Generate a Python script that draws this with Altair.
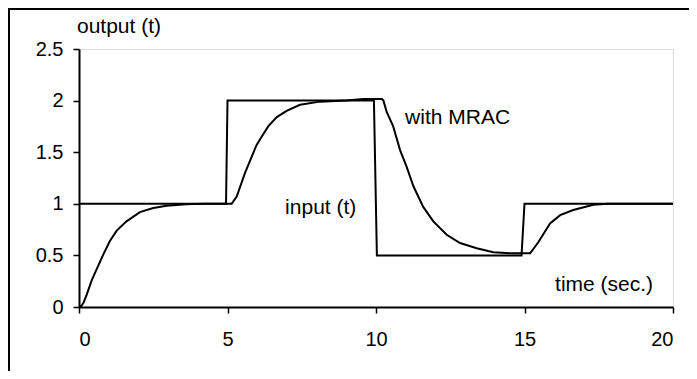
import altair as alt
import pandas as pd

# input (t): step reference signal
input_t = [0, 4.95, 5.0, 9.93, 10.03, 14.9, 15.0, 20]
input_v = [1, 1, 2, 2, 0.5, 0.5, 1, 1]

# output (t) with MRAC
out_t = [0, 0.08, 0.15, 0.26, 0.43, 0.6, 0.82, 1.04, 1.27, 1.6, 2.05, 2.5, 2.95, 3.6, 4.2, 5.08,
         5.14, 5.31, 5.59, 5.98, 6.15, 6.37, 6.66, 6.99, 7.44, 8.11, 9.0, 9.57, 10.2,
         10.25, 10.36, 10.58, 10.81, 11.03, 11.26, 11.59, 11.93, 12.38, 12.83, 13.39, 13.95, 14.51, 14.85, 15.19,
         15.47, 15.86, 16.2, 16.64, 17.32, 17.8, 20]
out_v = [0, 0.01, 0.04, 0.12, 0.26, 0.37, 0.51, 0.64, 0.74, 0.83, 0.92, 0.96, 0.98, 0.995, 1.0, 1.0,
         1.0, 1.07, 1.30, 1.57, 1.65, 1.75, 1.84, 1.90, 1.96, 1.99, 2.0, 2.015, 2.015,
         2.0, 1.89, 1.75, 1.52, 1.36, 1.17, 0.97, 0.83, 0.70, 0.62, 0.57, 0.53, 0.52, 0.52, 0.52,
         0.63, 0.81, 0.89, 0.94, 0.99, 1.0, 1.0]

# annotations
ann_text = ["with MRAC", "input (t)", "time (sec.)"]
ann_t = [10.98, 6.94, 16.03]
ann_v = [1.83, 0.96, 0.21]

x_ticks = [0, 5, 10, 15, 20]
y_ticks = [0, 0.5, 1, 1.5, 2, 2.5]

FONT = "Liberation Sans"
FS = 20
FS_TXT = 21

df_in = pd.DataFrame({"t": input_t, "v": input_v})
df_out = pd.DataFrame({"t": out_t, "v": out_v})
df_ann = pd.DataFrame({"label": ann_text, "t": ann_t, "v": ann_v})

xs = alt.Scale(domain=[0, 20], nice=False, zero=False)
ys = alt.Scale(domain=[0, 2.5], nice=False)

xax = alt.Axis(values=x_ticks, title=None, grid=False, domainColor="black", domainWidth=2,
               tickColor="black", tickWidth=1.5, tickSize=6, labelFont=FONT, labelFontSize=FS,
               labelColor="black", labelPadding=16, format="~g")
yax = alt.Axis(values=y_ticks, title=None, grid=False, domainColor="black", domainWidth=2,
               tickColor="black", tickWidth=1.5, tickSize=6, labelFont=FONT, labelFontSize=FS,
               labelColor="black", labelPadding=10, format="~g")

border = alt.Chart(pd.DataFrame({"a": [0]})).mark_rect(
    fill=None, stroke="black", strokeWidth=2
).encode(x=alt.value(-70), x2=alt.value(800), y=alt.value(-40), y2=alt.value(500))

line_in = alt.Chart(df_in).mark_line(color="black", strokeWidth=2).encode(
    x=alt.X("t:Q", scale=xs, axis=xax),
    y=alt.Y("v:Q", scale=ys, axis=yax),
    order="t:Q",
)
line_out = alt.Chart(df_out).mark_line(color="black", strokeWidth=2).encode(
    x=alt.X("t:Q", scale=xs),
    y=alt.Y("v:Q", scale=ys),
    order="t:Q",
)
texts = alt.Chart(df_ann).mark_text(
    align="left", baseline="middle", font=FONT, fontSize=FS_TXT, color="black"
).encode(x=alt.X("t:Q", scale=xs), y=alt.Y("v:Q", scale=ys), text="label:N")

ytitle = alt.Chart(pd.DataFrame({"label": ["output (t)"]})).mark_text(
    align="left", baseline="middle", font=FONT, fontSize=FS_TXT, color="black"
).encode(x=alt.value(-2), y=alt.value(-22), text="label:N")

chart = alt.layer(border, line_in, line_out, texts, ytitle).properties(
    width=594, height=258,
    autosize=alt.AutoSizeParams(type="none"),
    padding={"left": 71, "top": 41, "right": 16, "bottom": 64},
).configure_view(stroke="#808080", strokeWidth=2).configure(background="white")

chart.save("out.html", embed_options={"renderer": "svg", "actions": False})
